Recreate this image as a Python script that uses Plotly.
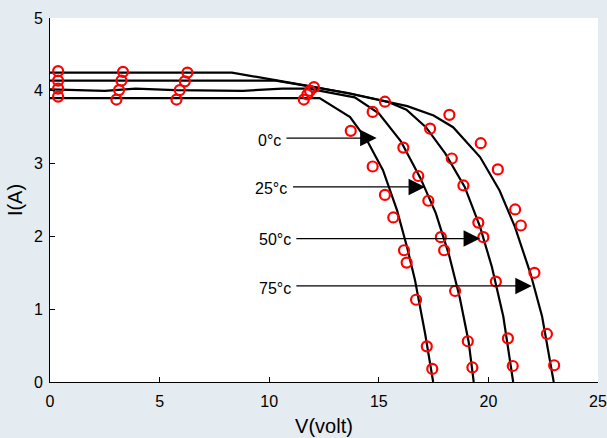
import plotly.graph_objects as go

# ---- model curves (V in volt, I in A) ----
v_0c = [0, 12.3, 13.69, 14.46, 15.19, 15.83, 16.29, 16.65, 17.11, 17.48]
i_0c = [3.90, 3.90, 3.64, 3.32, 2.91, 2.36, 1.85, 1.40, 0.67, 0.0]

v_25c = [0, 2.5, 3.9, 5.7, 8.8, 10.6, 11.8, 13.9, 15.0, 16.0, 16.9, 17.6, 18.2, 18.7, 19.1, 19.33]
i_25c = [4.02, 4.00, 4.03, 4.01, 4.00, 4.03, 4.03, 3.91, 3.69, 3.31, 2.80, 2.32, 1.75, 1.15, 0.55, 0.0]

v_50c = [0, 10.3, 13.6, 15.4, 16.26, 17.15, 18.03, 18.92, 19.62, 20.16, 20.68, 21.13]
i_50c = [4.14, 4.14, 3.97, 3.85, 3.74, 3.50, 3.14, 2.68, 2.13, 1.58, 0.90, 0.0]

v_75c = [0, 8.3, 11.9, 13.7, 16.3, 17.5, 18.39, 19.62, 20.51, 21.21, 21.92, 22.45, 22.98]
i_75c = [4.25, 4.25, 4.06, 3.96, 3.79, 3.66, 3.50, 3.09, 2.63, 2.13, 1.49, 0.90, 0.0]

# ---- measured points (red circles) ----
mv_0c = [0.37, 3.03, 5.77, 11.58, 13.72, 14.72, 15.28, 15.66, 16.15, 16.27, 16.70, 17.19, 17.44]
mi_0c = [3.92, 3.88, 3.88, 3.88, 3.45, 2.96, 2.57, 2.26, 1.81, 1.64, 1.13, 0.49, 0.18]

mv_25c = [0.37, 3.15, 5.92, 11.74, 14.72, 16.12, 16.80, 17.26, 17.83, 17.98, 18.48, 19.06, 19.27]
mi_25c = [4.03, 4.01, 4.01, 3.95, 3.71, 3.22, 2.83, 2.49, 1.99, 1.81, 1.25, 0.56, 0.20]

mv_50c = [0.37, 3.26, 6.15, 11.86, 15.28, 17.34, 18.33, 18.86, 19.54, 19.77, 20.34, 20.89, 21.11]
mi_50c = [4.14, 4.14, 4.13, 4.00, 3.85, 3.48, 3.07, 2.70, 2.19, 1.99, 1.38, 0.60, 0.22]

mv_75c = [0.37, 3.33, 6.27, 12.04, 18.22, 19.65, 20.43, 21.22, 21.48, 22.10, 22.67, 23.00]
mi_75c = [4.27, 4.26, 4.25, 4.05, 3.67, 3.28, 2.92, 2.37, 2.15, 1.50, 0.66, 0.23]

# ---- temperature labels and arrows ----
temp_labels = ["0°c", "25°c", "50°c", "75°c"]
label_end_v = [10.63, 10.91, 11.07, 11.07]
label_i = [3.32, 2.66, 1.96, 1.29]
arrow_start_v = [10.72, 11.02, 11.17, 11.17]
arrow_tip_v = [14.90, 17.11, 19.62, 21.98]
arrow_i = [3.35, 2.68, 1.97, 1.32]

x_ticks = [0, 5, 10, 15, 20, 25]
y_ticks = [0, 1, 2, 3, 4, 5]

FONT = "Liberation Sans, Arial, sans-serif"

fig = go.Figure()
for v, i in [(v_0c, i_0c), (v_25c, i_25c), (v_50c, i_50c), (v_75c, i_75c)]:
    fig.add_trace(go.Scatter(x=v, y=i, mode="lines",
                             line=dict(color="black", width=2.2),
                             showlegend=False, hoverinfo="skip"))
for v, i in [(mv_0c, mi_0c), (mv_25c, mi_25c), (mv_50c, mi_50c), (mv_75c, mi_75c)]:
    fig.add_trace(go.Scatter(x=v, y=i, mode="markers",
                             marker=dict(symbol="circle-open", size=10, color="#ff0000",
                                         line=dict(color="#ff0000", width=2.2)),
                             showlegend=False, hoverinfo="skip"))

annotations = []
for lab, tx, ty, sx, tip, ay in zip(temp_labels, label_end_v, label_i,
                                    arrow_start_v, arrow_tip_v, arrow_i):
    annotations.append(dict(x=tip, y=ay, ax=sx, ay=ay, xref="x", yref="y",
                            axref="x", ayref="y", text="", showarrow=True,
                            arrowhead=2, arrowsize=3, arrowwidth=1.1,
                            arrowcolor="black", standoff=0, startstandoff=0))
    annotations.append(dict(x=tx, y=ty, xref="x", yref="y", text=lab,
                            showarrow=False, xanchor="right", yanchor="middle",
                            font=dict(family=FONT, size=16, color="black")))

fig.update_layout(
    width=607, height=438, autosize=False,
    margin=dict(l=50, r=9, t=18, b=56, autoexpand=False),
    paper_bgcolor="#e4ebf1",
    plot_bgcolor="white",
    font=dict(family=FONT, size=16, color="black"),
    annotations=annotations,
    xaxis=dict(range=[0, 25], tickvals=x_ticks, ticks="inside", ticklen=5,
               tickcolor="black", showline=True, linecolor="black", linewidth=1,
               showgrid=False, zeroline=False, mirror=False, automargin=False,
               ticklabelstandoff=5,
               title=dict(text="V(volt)", standoff=9,
                          font=dict(family=FONT, size=20))),
    yaxis=dict(range=[0, 5], tickvals=y_ticks, ticks="inside", ticklen=5,
               tickcolor="black", showline=True, linecolor="black", linewidth=1,
               showgrid=False, zeroline=False, mirror=False, automargin=False,
               ticklabelstandoff=3,
               title=dict(text="I(A)", standoff=5,
                          font=dict(family=FONT, size=20))),
)

fig.write_html("out.html")
